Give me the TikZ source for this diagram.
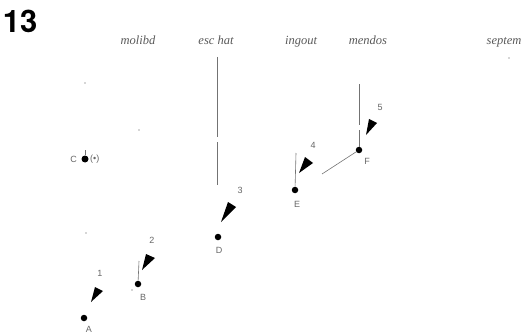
\documentclass[tikz,border=0pt]{standalone}
\usepackage{fontspec}
\setmainfont{Liberation Serif}
\setsansfont{Liberation Sans}
\newfontfamily\headfont{TeX Gyre Heros}
\begin{document}
\begin{tikzpicture}[x=1pt,y=-1pt,
  col/.style={font=\itshape\fontsize{12.5}{12.5}\selectfont, text=black!65, inner sep=0pt, anchor=base},
  tag/.style={font=\sffamily\fontsize{9}{9}\selectfont, text=black!60, inner sep=0pt},
  pt/.style={circle, fill=black, inner sep=0pt, minimum size=6.5pt},
  stem/.style={draw=black!55, line width=0.6pt},
  wedge/.style={fill=black},
  speck/.style={circle, fill=black!70, inner sep=0pt, minimum size=1.3pt}]
\useasboundingbox (0,0) rectangle (527,334);

% heading number
\node[font=\headfont\bfseries\fontsize{31}{31}\selectfont, inner sep=0pt] (title) at (20,21) {13};

% column headings
\node[col] (molibd) at (138,45) {molibd};
\node[col] (eschat) at (216,45) {esc hat};
\node[col] (ingout) at (301,45) {ingout};
\node[col] (mendos) at (368,45) {mendos};
\node[col] (septem) at (504,45) {septem};

% points
\node[pt] (A) at (84,318) {};
\node[pt] (B) at (138,284) {};
\node[pt, minimum size=7pt] (C) at (85,159) {};
\node[pt] (D) at (218,237) {};
\node[pt] (E) at (295,190) {};
\node[pt] (F) at (359,150) {};

% point letters
\node[tag] (lA) at (89,329) {A};
\node[tag] (lB) at (143,297) {B};
\node[tag, anchor=east] (lC) at (77,159) {C};
\node[tag, anchor=west] (lCr) at (90,159) {(\textbullet)};
\node[tag] (lD) at (219,250) {D};
\node[tag] (lE) at (297,204) {E};
\node[tag] (lF) at (367,161) {F};

% stems
\coordinate (Btop) at (139,261);
\coordinate (Ctop) at (85,150);
\coordinate (Etop) at (296,153);
\coordinate (Ftop) at (359,84);
\coordinate (Fgap1) at (359,125);
\coordinate (Fgap2) at (359,130);
\coordinate (Dtop) at (217,57);
\coordinate (Dgap1) at (217,137);
\coordinate (Dgap2) at (217,142);
\coordinate (Dbot) at (217,185);
\coordinate (Fend) at (322,174);
\draw[stem] (B) -- (Btop);
\draw[stem] (C) -- (Ctop);
\draw[stem] (E) -- (Etop);
\draw[stem] (F) -- (Fgap2);
\draw[stem] (Fgap1) -- (Ftop);
\draw[stem] (Dtop) -- (Dgap1);
\draw[stem] (Dgap2) -- (Dbot);
\draw[stem] (F) -- (Fend);

% wedges
\fill[wedge] (95,287) -- (103,291) -- (91,302) -- cycle;
\fill[wedge] (146,254) -- (155,258) -- (142,270) -- cycle;
\fill[wedge] (228,202) -- (236,207) -- (221,222) -- cycle;
\fill[wedge] (305,157) -- (313,163) -- (299,173) -- cycle;
\fill[wedge] (369,119) -- (377,123) -- (366,135) -- cycle;

% wedge numbers
\node[tag] (n1) at (100,273) {1};
\node[tag] (n2) at (152,240) {2};
\node[tag] (n3) at (240,190) {3};
\node[tag] (n4) at (313,145) {4};
\node[tag] (n5) at (380,107) {5};

% stray marks
\node[speck] (s1) at (85,83) {};
\node[speck] (s2) at (139,130) {};
\node[speck] (s3) at (86,233) {};
\node[speck] (s4) at (509,58) {};
\node[speck] (s5) at (132,290) {};
\end{tikzpicture}
\end{document}
